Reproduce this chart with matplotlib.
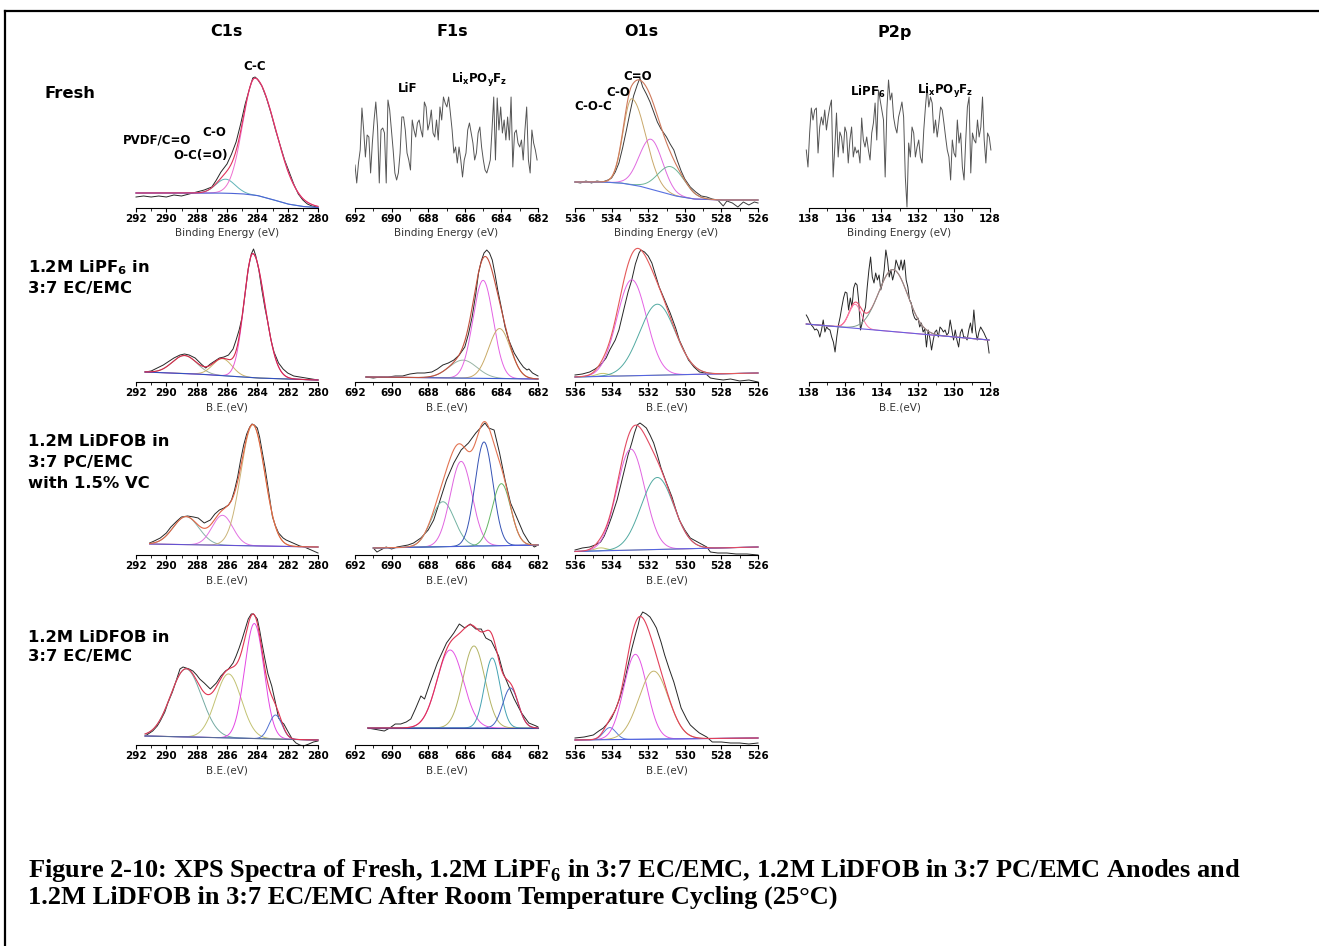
import numpy as np
import matplotlib
matplotlib.use("Agg")
import matplotlib.pyplot as plt
from matplotlib.lines import Line2D

plt.rcParams['font.family'] = ['DejaVu Sans']
plt.rcParams['mathtext.fontset'] = 'dejavusans'

W, H = 1319, 946

# ---------------- data (intensity in arbitrary units) ----------------
# Fresh
c1s_fresh_be = [292.0, 291.5, 291.0, 290.5, 290.0, 289.5, 289.0, 288.5, 288.0, 287.5, 287.0, 286.7,
                286.4, 286.2, 286.0, 285.7, 285.4, 285.1, 284.8, 284.5, 284.3, 284.15, 284.0, 283.7,
                283.4, 283.1, 282.8, 282.5, 282.2, 281.9, 281.6, 281.3, 281.0, 280.7, 280.4, 280.0]
c1s_fresh_raw = [11, 12, 11, 12, 11, 13, 12, 14, 16, 18, 21, 28, 36, 40, 44, 54, 66, 84, 104, 120, 130,
                 131, 129, 122, 110, 95, 78, 63, 48, 36, 24, 14, 8, 4, 2, 1]
c1s_fresh_bg_be = [292, 287, 286, 285, 284, 283, 282, 281, 280]
c1s_fresh_bg = [15, 15, 14.8, 14.2, 12.5, 8.5, 4, 1.5, 0.5]
c1s_fresh_centers = [286.1, 284.15]
c1s_fresh_amps = [14, 117]
c1s_fresh_fwhm = [1.5, (1.9, 3.2)]

f1s_fresh_raw = [43, 25, 45, 58, 100, 78, 51, 73, 71, 35, 65, 88, 106, 81, 25, 78, 80, 75, 25, 108, 98,
                 78, 58, 35, 28, 35, 55, 91, 91, 78, 55, 48, 38, 88, 78, 71, 85, 88, 78, 71, 106, 101,
                 78, 85, 98, 75, 71, 88, 68, 101, 88, 111, 105, 101, 111, 95, 78, 55, 61, 45, 61, 48,
                 31, 48, 55, 78, 85, 75, 65, 48, 55, 75, 81, 61, 48, 38, 35, 41, 48, 78, 111, 48, 110,
                 78, 101, 75, 88, 68, 91, 68, 111, 41, 75, 78, 65, 61, 68, 48, 78, 101, 48, 35, 78, 65,
                 58, 48]

o1s_fresh_be = [536.0, 535.7, 535.4, 535.1, 534.8, 534.5, 534.2, 534.0, 533.8, 533.6, 533.4, 533.2,
                533.0, 532.8, 532.6, 532.45, 532.3, 532.1, 531.9, 531.7, 531.5, 531.3, 531.0, 530.8,
                530.6, 530.4, 530.2, 530.0, 529.7, 529.4, 529.1, 528.8, 528.5, 528.2, 527.9, 527.7,
                527.4, 527.1, 526.8, 526.5, 526.2, 526.0]
o1s_fresh_raw = [26, 25, 27, 25, 27, 26, 28, 30, 36, 45, 60, 77, 95, 112, 123, 130, 121, 114, 106, 96,
                 86, 79, 71, 64, 58, 47, 37, 29, 21, 16, 12, 11, 9, 8, 2, 7, 5, 1, 6, 3, 6, 5]
o1s_fresh_bg_be = [536, 534.5, 533.5, 532.5, 531.5, 530.5, 529.5, 528, 526]
o1s_fresh_bg = [26, 26, 25, 22, 17, 12, 9, 8, 8]
o1s_fresh_centers = [532.9, 531.85, 530.75]
o1s_fresh_amps = [86, 50, 28]
o1s_fresh_fwhm = [(1.1, 1.8), 1.5, 1.7]

p2p_fresh_raw = [58, 41, 75, 100, 88, 98, 100, 55, 81, 91, 83, 98, 78, 91, 101, 108, 31, 61, 95, 51,
                 76, 71, 55, 81, 75, 45, 68, 81, 51, 61, 55, 58, 45, 90, 68, 61, 71, 58, 48, 75, 85,
                 105, 68, 118, 108, 98, 88, 31, 98, 128, 108, 115, 91, 81, 75, 91, 98, 106, 91, 31, 1,
                 65, 51, 81, 75, 51, 61, 68, 51, 45, 78, 101, 121, 101, 111, 105, 75, 88, 71, 85, 101,
                 98, 85, 71, 58, 51, 28, 68, 55, 51, 88, 65, 75, 41, 28, 68, 101, 111, 35, 75, 68, 65,
                 88, 71, 81, 111, 68, 45, 75, 71, 58]

# 1.2M LiPF6 in 3:7 EC/EMC
c1s_lipf6_be = [291.4, 291.0, 290.6, 290.2, 289.9, 289.5, 289.1, 288.8, 288.5, 288.1, 287.7, 287.4,
                287.1, 286.8, 286.5, 286.2, 285.9, 285.6, 285.4, 285.2, 285.0, 284.8, 284.6, 284.4,
                284.25, 284.1, 283.9, 283.7, 283.5, 283.3, 283.1, 282.9, 282.6, 282.3, 282.0, 281.6,
                281.2, 280.8, 280.4, 280.0]
c1s_lipf6_raw = [10, 11, 14, 17, 20, 24, 27, 28, 27, 24, 18, 14, 18, 21, 24, 25, 27, 33, 42, 52, 65,
                 89, 113, 128, 133, 126, 112, 92, 74, 59, 42, 30, 19, 13, 9, 6, 5, 4, 3, 2]
c1s_lipf6_bg_be = [291.4, 288, 286, 284, 282, 280]
c1s_lipf6_bg = [10, 8, 6, 4, 3, 2]
c1s_lipf6_centers = [288.8, 286.3, 284.3]
c1s_lipf6_amps = [18, 17, 124]
c1s_lipf6_fwhm = [1.9, 1.5, (1.35, 1.85)]

f1s_lipf6_be = [691.4, 691.0, 690.6, 690.2, 689.8, 689.4, 689.0, 688.6, 688.2, 687.8, 687.5, 687.2,
                686.9, 686.6, 686.3, 686.0, 685.8, 685.6, 685.4, 685.25, 685.1, 684.95, 684.8, 684.65,
                684.5, 684.35, 684.2, 684.0, 683.8, 683.6, 683.3, 683.0, 682.8, 682.6, 682.5, 682.3,
                682.1, 682.0]
f1s_lipf6_raw = [5, 4, 5, 5, 6, 6, 8, 9, 9, 10, 13, 17, 19, 22, 27, 35, 48, 65, 88, 109, 121, 129,
                 132, 129, 122, 108, 92, 74, 55, 42, 29, 20, 15, 12, 13, 9, 7, 6]
f1s_lipf6_bg_be = [691.4, 682.0]
f1s_lipf6_bg = [5, 3]
f1s_lipf6_centers = [686.1, 685.0, 684.1]
f1s_lipf6_amps = [18, 98, 50]
f1s_lipf6_fwhm = [1.8, 1.3, 1.4]

o1s_lipf6_be = [536.0, 535.6, 535.2, 534.9, 534.6, 534.3, 534.1, 533.8, 533.6, 533.3, 533.1, 532.9,
                532.7, 532.5, 532.4, 532.2, 532.0, 531.8, 531.6, 531.4, 531.1, 530.8, 530.5, 530.3,
                530.0, 529.8, 529.5, 529.2, 528.9, 528.6, 528.3, 527.9, 527.5, 527.0, 526.5, 526.0]
o1s_lipf6_raw = [7, 8, 10, 13, 17, 24, 32, 42, 52, 75, 90, 102, 118, 129, 132, 130, 126, 119, 107, 95,
                 82, 69, 54, 42, 30, 22, 15, 10, 9, 4, 3, 2, 3, 1, 2, 0]
o1s_lipf6_bg_be = [536, 526]
o1s_lipf6_bg = [5, 9]
o1s_lipf6_centers = [534.5, 532.9, 531.5]
o1s_lipf6_amps = [3, 96, 71]
o1s_lipf6_fwhm = [0.8, 1.9, 2.3]

p2p_lipf6_raw = [67, 64, 60, 57, 55, 52, 53, 51, 45, 52, 62, 50, 55, 53, 52, 45, 40, 30, 45, 57, 65,
                 75, 84, 90, 89, 72, 84, 75, 94, 99, 97, 80, 52, 59, 69, 75, 95, 112, 125, 105, 99,
                 109, 102, 107, 92, 99, 112, 132, 122, 105, 112, 102, 109, 122, 117, 112, 122, 112, 122,
                 102, 95, 82, 79, 69, 64, 62, 64, 55, 59, 50, 53, 35, 52, 44, 32, 42, 50, 52, 45, 55,
                 53, 50, 52, 47, 49, 62, 52, 42, 52, 42, 35, 49, 53, 45, 45, 42, 52, 59, 49, 72, 52,
                 42, 50, 55, 52, 49, 45, 42, 29]
p2p_lipf6_bg_be = [138.15, 128.05]
p2p_lipf6_bg = [58, 42]
p2p_lipf6_centers = [135.45, 133.35]
p2p_lipf6_amps = [24, 62]
p2p_lipf6_fwhm = [0.8, 1.9]

# 1.2M LiDFOB in 3:7 PC/EMC with 1.5% VC
c1s_pc_be = [291.1, 290.8, 290.4, 290.0, 289.7, 289.3, 289.0, 288.6, 288.2, 287.9, 287.5, 287.1, 286.8,
             286.5, 286.2, 285.9, 285.7, 285.5, 285.3, 285.1, 284.9, 284.7, 284.5, 284.35, 284.2, 284.0,
             283.85, 283.7, 283.5, 283.3, 283.1, 283.0, 282.8, 282.6, 282.3, 282.1, 281.8, 281.5, 281.2,
             280.9, 280.6, 280.3, 280.0]
c1s_pc_raw = [12, 14, 17, 22, 28, 34, 38, 39, 38, 37, 32, 35, 41, 45, 47, 50, 55, 65, 78, 95, 110, 121,
              128, 131, 130, 127, 118, 105, 88, 68, 48, 38, 29, 22, 17, 15, 13, 11, 9, 8, 6, 4, 2]
c1s_pc_bg_be = [291.1, 280.0]
c1s_pc_bg = [11, 8]
c1s_pc_centers = [288.7, 286.3, 284.3]
c1s_pc_amps = [28, 30, 121]
c1s_pc_fwhm = [2.0, 1.6, 1.85]

f1s_pc_be = [691.0, 690.8, 690.6, 690.3, 690.0, 689.7, 689.4, 689.1, 688.8, 688.4, 688.0, 687.7, 687.4,
             687.0, 686.6, 686.2, 685.8, 685.6, 685.4, 685.1, 684.9, 684.7, 684.4, 684.1, 683.8, 683.5,
             683.1, 682.8, 682.5, 682.2, 682.0]
f1s_pc_raw = [7, 3, 5, 8, 6, 8, 9, 10, 12, 17, 25, 35, 52, 75, 92, 105, 112, 117, 122, 128, 132, 127,
              125, 102, 75, 52, 35, 22, 13, 8, 10]
f1s_pc_bg_be = [691.0, 682.0]
f1s_pc_bg = [7, 10]
f1s_pc_centers = [687.2, 686.2, 684.95, 684.0]
f1s_pc_amps = [45, 85, 104, 62]
f1s_pc_fwhm = [1.5, 1.4, 1.15, 1.2]

o1s_pc_be = [536.0, 535.6, 535.2, 534.9, 534.6, 534.4, 534.2, 534.0, 533.7, 533.5, 533.3, 533.1, 532.9,
             532.75, 532.6, 532.45, 532.3, 532.1, 531.9, 531.7, 531.5, 531.3, 531.0, 530.7, 530.5, 530.3,
             530.0, 529.7, 529.4, 529.2, 528.8, 528.6, 528.2, 527.7, 527.2, 526.6, 526.0]
o1s_pc_raw = [5, 7, 8, 10, 13, 19, 28, 38, 55, 70, 85, 100, 112, 122, 130, 132, 130, 127, 120, 112, 100,
              87, 72, 58, 46, 35, 25, 17, 14, 12, 8, 3, 2, 2, 1, 1, 0]
o1s_pc_bg_be = [536, 526]
o1s_pc_bg = [3.5, 8]
o1s_pc_centers = [534.6, 532.95, 531.5]
o1s_pc_amps = [3, 101, 72]
o1s_pc_fwhm = [0.8, 1.8, 2.1]

# 1.2M LiDFOB in 3:7 EC/EMC
c1s_ec_be = [291.4, 291.1, 290.9, 290.6, 290.4, 290.1, 289.9, 289.6, 289.4, 289.1, 288.9, 288.7, 288.5,
             288.25, 288.0, 287.8, 287.5, 287.3, 287.1, 286.9, 286.7, 286.4, 286.1, 285.9, 285.6, 285.4,
             285.2, 285.0, 284.8, 284.6, 284.4, 284.25, 284.0, 283.85, 283.7, 283.5, 283.3, 283.05,
             282.8, 282.6, 282.4, 282.25, 282.0, 281.7, 281.45, 281.2, 280.95, 280.6, 280.3, 280.0]
c1s_ec_raw = [9, 12, 14, 19, 24, 33, 42, 53, 62, 76, 78, 77, 76, 74, 70, 66, 62, 59, 56, 59, 62, 69, 74,
              76, 82, 89, 97, 106, 116, 126, 131, 131, 126, 115, 102, 86, 71, 59, 42, 27, 23, 21, 14, 6,
              2, 0, -1, 1, 3, 4]
c1s_ec_bg_be = [291.4, 280.0]
c1s_ec_bg = [9, 5]
c1s_ec_centers = [288.7, 285.9, 284.2, 282.8]
c1s_ec_amps = [68, 64, 115, 24]
c1s_ec_fwhm = [2.4, 2.0, 1.5, 1.0]

f1s_ec_be = [691.3, 691.0, 690.7, 690.4, 690.1, 689.8, 689.5, 689.2, 688.95, 688.7, 688.4, 688.2, 687.9,
             687.5, 687.0, 686.6, 686.3, 686.0, 685.7, 685.4, 685.1, 684.85, 684.55, 684.15, 683.9, 683.6,
             683.3, 682.9, 682.5, 682.1, 682.0]
f1s_ec_raw = [17, 16, 15, 14, 17, 21, 21, 23, 26, 36, 49, 46, 62, 82, 102, 112, 121, 117, 121, 116, 116,
              107, 104, 89, 72, 59, 46, 32, 22, 19, 18]
f1s_ec_bg_be = [691.3, 682.0]
f1s_ec_bg = [17, 17]
f1s_ec_centers = [686.8, 685.5, 684.5, 683.5]
f1s_ec_amps = [78, 82, 70, 40]
f1s_ec_fwhm = [1.7, 1.4, 1.0, 1.0]

o1s_ec_be = [536.0, 535.5, 535.0, 534.7, 534.45, 534.2, 534.0, 533.8, 533.55, 533.3, 533.1, 532.9, 532.7,
             532.55, 532.45, 532.3, 532.1, 531.9, 531.7, 531.55, 531.3, 531.1, 530.85, 530.6, 530.4,
             530.2, 529.9, 529.7, 529.4, 529.2, 528.8, 528.5, 528.0, 527.5, 527.0, 526.5, 526.0]
o1s_ec_raw = [7, 8, 10, 14, 17, 22, 27, 35, 47, 63, 80, 96, 110, 120, 128, 133, 131, 128, 122, 117, 103,
              90, 76, 63, 50, 37, 26, 20, 15, 12, 8, 3, 3, 2, 2, 1, 2]
o1s_ec_bg_be = [536, 526]
o1s_ec_bg = [5, 7]
o1s_ec_centers = [534.1, 532.7, 531.7]
o1s_ec_amps = [12, 85, 68]
o1s_ec_fwhm = [0.8, 1.5, 1.9]

col_titles = ['C1s', 'F1s', 'O1s', 'P2p']
col_limits = [(292, 280), (692, 682), (536, 526), (138, 128)]

# ---------------- layout helpers ----------------
col_px = [(136, 318), (355, 538), (575, 758), (809, 990)]
row_axis_px = [208, 382, 555, 745]
AX_H = 150


def fpos(x, y):
    return x / W, 1 - y / H


def make_axes(fig, row, col, xlabel):
    x0, x1 = col_px[col]
    y = row_axis_px[row]
    ax = fig.add_axes([x0 / W, 1 - y / H, (x1 - x0) / W, AX_H / H])
    ax.patch.set_visible(False)
    hi, lo = col_limits[col]
    ax.set_xlim(hi, lo)
    ax.set_ylim(0, AX_H)
    for s in ['top', 'left', 'right']:
        ax.spines[s].set_visible(False)
    ax.spines['bottom'].set_linewidth(0.8)
    ax.set_yticks([])
    ticks = np.arange(lo, hi + 1, 2)
    ax.set_xticks(ticks)
    ax.set_xticklabels([str(t) for t in ticks], fontweight='bold', fontsize=7.5)
    ax.set_xticks(np.arange(lo, hi + 1, 1), minor=True)
    ax.tick_params(axis='x', which='major', length=3, width=0.8, pad=1.5)
    ax.tick_params(axis='x', which='minor', length=2, width=0.6)
    ax.set_xlabel(xlabel, fontsize=7.5, color='#333333', labelpad=3)
    return ax


def peak(be, c, a, w):
    if isinstance(w, tuple):
        w = np.where(be >= c, w[0], w[1])
    s = np.asarray(w) / 2.3548
    return a * np.exp(-0.5 * ((be - c) / s) ** 2)


def draw_fit(ax, be, raw, bg_be, bg, centers, amps, fwhm, colors, env_color, bg_color,
             raw_color='#262626', env_first=False):
    grid = np.linspace(max(be), min(be), 600)
    order = np.argsort(bg_be)
    base = np.interp(grid, np.asarray(bg_be)[order], np.asarray(bg)[order])
    ax.plot(be, raw, color=raw_color, lw=0.7, clip_on=False)
    comps = [peak(grid, c, a, w) for c, a, w in zip(centers, amps, fwhm)]
    total = base + np.sum(comps, axis=0)
    if env_first:
        ax.plot(grid, total, color=env_color, lw=0.8, clip_on=False)
    for comp, col in zip(comps, colors):
        ax.plot(grid, base + comp, color=col, lw=0.7, clip_on=False)
    ax.plot(grid, base, color=bg_color, lw=0.8, clip_on=False)
    if not env_first:
        ax.plot(grid, total, color=env_color, lw=0.8, clip_on=False)


fig = plt.figure(figsize=(W / 100, H / 100), dpi=100)

# border
fig.add_artist(Line2D([5 / W, 5 / W], [0, 1 - 11 / H], transform=fig.transFigure, color='black', lw=1.6))
fig.add_artist(Line2D([5 / W, 1], [1 - 11 / H, 1 - 11 / H], transform=fig.transFigure, color='black', lw=1.6))

# column titles
for title, xc in zip(col_titles, [226, 452, 641, 895]):
    fig.text(*fpos(xc, 32), title, ha='center', va='center', fontsize=11.5, fontweight='bold')

# row labels
row_labels = [
    [('Fresh', 45, 93)],
    [('1.2M LiPF$_\\mathregular{6}$ in', 28, 268), ('3:7 EC/EMC', 28, 289)],
    [('1.2M LiDFOB in', 28, 441), ('3:7 PC/EMC', 28, 462), ('with 1.5% VC', 28, 483)],
    [('1.2M LiDFOB in', 28, 637), ('3:7 EC/EMC', 28, 656)],
]
for lines in row_labels:
    for txt, x, y in lines:
        fig.text(*fpos(x, y), txt, ha='left', va='center', fontsize=11.8, fontweight='bold')

# ---- row 1: Fresh ----
ax = make_axes(fig, 0, 0, 'Binding Energy (eV)')
draw_fit(ax, c1s_fresh_be, c1s_fresh_raw, c1s_fresh_bg_be, c1s_fresh_bg, c1s_fresh_centers,
         c1s_fresh_amps, c1s_fresh_fwhm, ['#5fb3b8', '#ee6fd0'], '#e0335c', '#4d63d6')

ax = make_axes(fig, 0, 1, 'Binding Energy (eV)')
ax.plot(np.linspace(692, 682.05, len(f1s_fresh_raw)), f1s_fresh_raw, color='#555555', lw=0.7)

ax = make_axes(fig, 0, 2, 'Binding Energy (eV)')
draw_fit(ax, o1s_fresh_be, o1s_fresh_raw, o1s_fresh_bg_be, o1s_fresh_bg, o1s_fresh_centers,
         o1s_fresh_amps, o1s_fresh_fwhm, ['#c9a86a', '#e06ae0', '#6cb596'], '#cf7a5c', '#5870e0',
         raw_color='#3a3a3a')

ax = make_axes(fig, 0, 3, 'Binding Energy (eV)')
ax.plot(np.linspace(138.15, 127.95, len(p2p_fresh_raw)), p2p_fresh_raw, color='#555555', lw=0.7,
        clip_on=False)

# ---- row 2: LiPF6 ----
ax = make_axes(fig, 1, 0, 'B.E.(eV)')
draw_fit(ax, c1s_lipf6_be, c1s_lipf6_raw, c1s_lipf6_bg_be, c1s_lipf6_bg, c1s_lipf6_centers,
         c1s_lipf6_amps, c1s_lipf6_fwhm, ['#9aae9c', '#cbb56a', '#e85ad6'], '#d62848', '#3050c0')

ax = make_axes(fig, 1, 1, 'B.E.(eV)')
draw_fit(ax, f1s_lipf6_be, f1s_lipf6_raw, f1s_lipf6_bg_be, f1s_lipf6_bg, f1s_lipf6_centers,
         f1s_lipf6_amps, f1s_lipf6_fwhm, ['#98b4a4', '#e462e4', '#c9aa66'], '#c2503e', '#3c5cd0')

ax = make_axes(fig, 1, 2, 'B.E.(eV)')
draw_fit(ax, o1s_lipf6_be, o1s_lipf6_raw, o1s_lipf6_bg_be, o1s_lipf6_bg, o1s_lipf6_centers,
         o1s_lipf6_amps, o1s_lipf6_fwhm, ['#c4c46a', '#e462e4', '#52aaa2'], '#e45a5a', '#5464e0')

ax = make_axes(fig, 1, 3, 'B.E.(eV)')
draw_fit(ax, np.linspace(138.15, 128.05, len(p2p_lipf6_raw)), p2p_lipf6_raw, p2p_lipf6_bg_be,
         p2p_lipf6_bg, p2p_lipf6_centers, p2p_lipf6_amps, p2p_lipf6_fwhm, ['#ff78a8', '#7f9a8c'],
         '#e8506e', '#6a5ee0', env_first=True)

# ---- row 3: LiDFOB PC/EMC ----
ax = make_axes(fig, 2, 0, 'B.E.(eV)')
draw_fit(ax, c1s_pc_be, c1s_pc_raw, c1s_pc_bg_be, c1s_pc_bg, c1s_pc_centers, c1s_pc_amps,
         c1s_pc_fwhm, ['#86b2aa', '#e272e2', '#cbb478'], '#e26444', '#6452d2')

ax = make_axes(fig, 2, 1, 'B.E.(eV)')
draw_fit(ax, f1s_pc_be, f1s_pc_raw, f1s_pc_bg_be, f1s_pc_bg, f1s_pc_centers, f1s_pc_amps,
         f1s_pc_fwhm, ['#72b2a2', '#e064e0', '#3452b4', '#64b464'], '#e27452', '#4a5ed8')

ax = make_axes(fig, 2, 2, 'B.E.(eV)')
draw_fit(ax, o1s_pc_be, o1s_pc_raw, o1s_pc_bg_be, o1s_pc_bg, o1s_pc_centers, o1s_pc_amps,
         o1s_pc_fwhm, ['#c4c46a', '#e064e0', '#52aaa2'], '#e24a62', '#5464e0')

# ---- row 4: LiDFOB EC/EMC ----
ax = make_axes(fig, 3, 0, 'B.E.(eV)')
draw_fit(ax, c1s_ec_be, c1s_ec_raw, c1s_ec_bg_be, c1s_ec_bg, c1s_ec_centers, c1s_ec_amps,
         c1s_ec_fwhm, ['#74aaa2', '#c2c272', '#e446e4', '#5272d2'], '#e03452', '#5a6a9a')

ax = make_axes(fig, 3, 1, 'B.E.(eV)')
draw_fit(ax, f1s_ec_be, f1s_ec_raw, f1s_ec_bg_be, f1s_ec_bg, f1s_ec_centers, f1s_ec_amps,
         f1s_ec_fwhm, ['#e454e4', '#b4b464', '#44a2b2', '#4464c4'], '#e03452', '#3a4aa0')

ax = make_axes(fig, 3, 2, 'B.E.(eV)')
draw_fit(ax, o1s_ec_be, o1s_ec_raw, o1s_ec_bg_be, o1s_ec_bg, o1s_ec_centers, o1s_ec_amps,
         o1s_ec_fwhm, ['#5a7ad8', '#e454e4', '#c4b46a'], '#e2405a', '#5464e0')

# peak annotations
peak_labels = [
    ('C-C', 255, 67), ('C-O', 214, 133), ('PVDF/C=O', 157, 140), ('O-C(=O)', 201, 156),
    ('LiF', 408, 88), ('Li$_\\mathregular{x}$PO$_\\mathregular{y}$F$_\\mathregular{z}$', 479, 80),
    ('C=O', 638, 76), ('C-O', 618, 92), ('C-O-C', 593, 106),
    ('LiPF$_\\mathregular{6}$', 868, 92), ('Li$_\\mathregular{x}$PO$_\\mathregular{y}$F$_\\mathregular{z}$', 945, 91),
]
for txt, x, y in peak_labels:
    fig.text(*fpos(x, y), txt, ha='center', va='center', fontsize=8.5, fontweight='bold')

# caption
caption = [
    'Figure 2-10: XPS Spectra of Fresh, 1.2M LiPF$_\\mathregular{6}$ in 3:7 EC/EMC, '
    '1.2M LiDFOB in 3:7 PC/EMC Anodes and',
    '1.2M LiDFOB in 3:7 EC/EMC After Room Temperature Cycling (25\u00b0C)',
]
for i, line in enumerate(caption):
    fig.text(*fpos(28, 870 + 27 * i), line, ha='left', va='center', fontsize=19,
             fontweight='bold', family='Liberation Serif')

fig.savefig('out.png', dpi=100)
